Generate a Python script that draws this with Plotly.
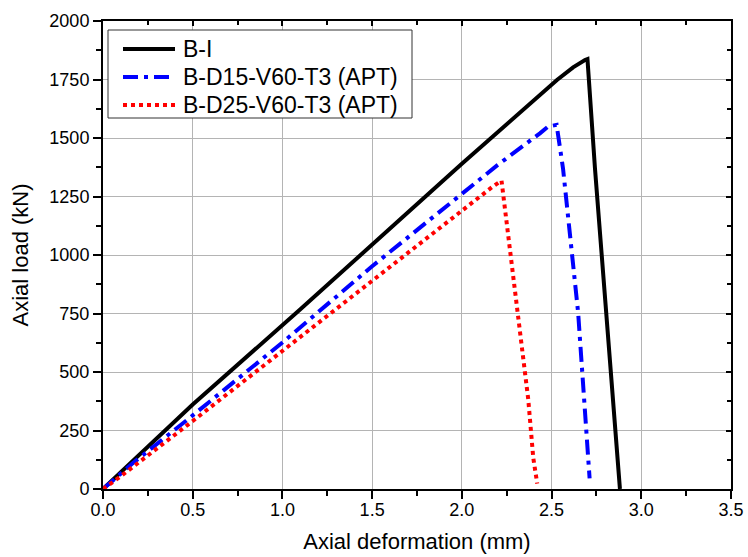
import plotly.graph_objects as go

# Data
bi_x = [0.0, 0.5, 1.1, 1.5, 2.0, 2.53, 2.62, 2.686, 2.70, 2.742, 2.81, 2.881]
bi_y = [0, 361, 768, 1044, 1390, 1748, 1802, 1833, 1837, 1369, 683, 0]

d15_x = [0.0, 0.167, 0.483, 1.0, 1.5, 2.0, 2.2, 2.435, 2.481, 2.528, 2.564, 2.648, 2.712]
d15_y = [0, 111, 304, 626, 952, 1265, 1385, 1520, 1549, 1556, 1369, 754, 45]

d25_x = [0.0, 0.1, 0.511, 1.0, 1.5, 2.0, 2.082, 2.175, 2.221, 2.268, 2.314, 2.37, 2.398, 2.42]
d25_y = [0, 55, 297, 590, 893, 1190, 1240, 1294, 1318, 1026, 747, 383, 133, 23]

names = ["B-I", "B-D15-V60-T3 (APT)", "B-D25-V60-T3 (APT)"]
x_ticks = [0.0, 0.5, 1.0, 1.5, 2.0, 2.5, 3.0, 3.5]
y_ticks = [0, 250, 500, 750, 1000, 1250, 1500, 1750, 2000]

FONT = "Liberation Sans, Arial, sans-serif"
W, H = 748, 557
L, R, T, B = 103, 731, 21, 489

def px(xp):
    return (xp - L) / (R - L)

def py(yp):
    return (B - yp) / (B - T)

styles = [dict(color="black", width=4),
          dict(color="#0000ff", width=4, dash="15px,6px,4px,6px"),
          dict(color="#ff0000", width=4, dash="4px,4px")]

fig = go.Figure()
for xs, ys, nm, st in zip([bi_x, d15_x, d25_x], [bi_y, d15_y, d25_y], names, styles):
    fig.add_trace(go.Scatter(x=xs, y=ys, mode="lines", name=nm, line=st, showlegend=False))
# invisible trace to anchor mirrored axes
fig.add_trace(go.Scatter(x=[0], y=[0], xaxis="x2", yaxis="y2", mode="markers",
                         marker=dict(opacity=0), showlegend=False, hoverinfo="skip"))

# legend box drawn in paper coordinates
shapes = [dict(type="rect", xref="paper", yref="paper",
               x0=px(108), x1=px(412), y0=py(118), y1=py(30),
               line=dict(color="#333333", width=1), fillcolor="white", layer="above")]
annotations = []
rows = [49, 77, 105]
for nm, st, ry in zip(names, styles, rows):
    shapes.append(dict(type="line", xref="paper", yref="paper",
                       x0=px(123), x1=px(175), y0=py(ry), y1=py(ry),
                       line=st, layer="above"))
    annotations.append(dict(text=nm, xref="paper", yref="paper", x=px(181), y=py(ry),
                            xanchor="left", yanchor="middle", showarrow=False,
                            font=dict(size=23, family=FONT, color="black")))

fig.update_layout(
    width=W, height=H,
    margin=dict(l=L, r=W - R, t=T, b=H - B, autoexpand=False),
    paper_bgcolor="white", plot_bgcolor="white",
    font=dict(family=FONT, color="black"),
    showlegend=False,
    shapes=shapes, annotations=annotations,
    xaxis=dict(range=[0, 3.5], tickvals=x_ticks, ticktext=[f"{v:.1f}" for v in x_ticks],
               ticks="outside", ticklen=8, tickwidth=2, tickcolor="black",
               ticklabelstandoff=-5,
               minor=dict(ticks="outside", ticklen=5, tickwidth=1.5, tickcolor="black",
                          dtick=0.25, tick0=0, showgrid=False),
               showline=True, linecolor="black", linewidth=2,
               showgrid=True, gridcolor="#b4b4b4", gridwidth=1.2,
               zeroline=False, tickfont=dict(size=18, family=FONT),
               title=dict(text="Axial deformation (mm)", font=dict(size=22, family=FONT))),
    yaxis=dict(range=[0, 2000], tickvals=y_ticks,
               ticks="outside", ticklen=8, tickwidth=2, tickcolor="black",
               minor=dict(ticks="outside", ticklen=5, tickwidth=1.5, tickcolor="black",
                          dtick=125, tick0=0, showgrid=False),
               showline=True, linecolor="black", linewidth=2,
               showgrid=True, gridcolor="#b4b4b4", gridwidth=1.2,
               zeroline=False, tickfont=dict(size=18, family=FONT),
               title=dict(text="Axial load (kN)", font=dict(size=22, family=FONT))),
    xaxis2=dict(range=[0, 3.5], overlaying="x", side="top", anchor="y2",
                tickvals=x_ticks, showticklabels=False,
                ticks="inside", ticklen=5, tickwidth=1.5, tickcolor="black",
                minor=dict(ticks="inside", ticklen=4, tickwidth=1.5, tickcolor="black",
                           dtick=0.25, tick0=0, showgrid=False),
                showline=True, linecolor="black", linewidth=2,
                showgrid=False, zeroline=False),
    yaxis2=dict(range=[0, 2000], overlaying="y", side="right", anchor="x2",
                tickvals=y_ticks, showticklabels=False,
                ticks="inside", ticklen=5, tickwidth=1.5, tickcolor="black",
                minor=dict(ticks="inside", ticklen=4, tickwidth=1.5, tickcolor="black",
                           dtick=125, tick0=0, showgrid=False),
                showline=True, linecolor="black", linewidth=2,
                showgrid=False, zeroline=False),
)

fig.write_html("out.html")
